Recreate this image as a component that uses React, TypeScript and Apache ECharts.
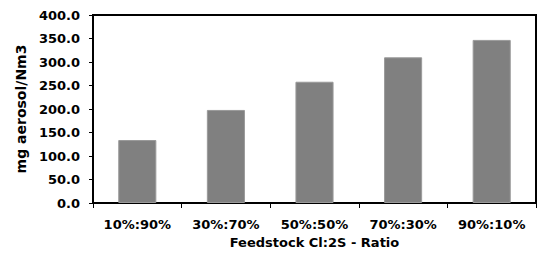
import React, { useEffect, useRef } from "react";
import * as echarts from "echarts";

const categories = ["10%:90%", "30%:70%", "50%:50%", "70%:30%", "90%:10%"];
const aerosolValues = [134, 198, 258, 310, 347];
const yAxisName = "mg aerosol/Nm3";
const xAxisName = "Feedstock Cl:2S - Ratio";

const FONT = "'DejaVu Sans', sans-serif";

export default function App() {
  const ref = useRef<HTMLDivElement>(null);
  useEffect(() => {
    if (!ref.current) return;
    const chart = echarts.init(ref.current, undefined, { renderer: "svg" });
    chart.setOption({
      animation: false,
      backgroundColor: "#ffffff",
      grid: {
        left: 93,
        right: 2,
        top: 15,
        bottom: 61,
        show: true,
        borderColor: "#000",
        borderWidth: 2,
        backgroundColor: "transparent",
      },
      xAxis: {
        type: "category",
        data: categories,
        name: xAxisName,
        nameLocation: "middle",
        nameGap: 30,
        nameTextStyle: { fontFamily: FONT, fontWeight: "bold", fontSize: 13, color: "#000" },
        axisLine: { lineStyle: { color: "#000", width: 2 } },
        axisTick: { show: true, length: 5, lineStyle: { color: "#000", width: 1 } },
        axisLabel: { margin: 15, fontFamily: FONT, fontWeight: "bold", fontSize: 13, color: "#000" },
      },
      yAxis: {
        type: "value",
        min: 0,
        max: 400,
        interval: 50,
        name: yAxisName,
        nameLocation: "middle",
        nameGap: 64,
        nameTextStyle: { fontFamily: FONT, fontWeight: "bold", fontSize: 14, color: "#000" },
        axisLine: { show: true, lineStyle: { color: "#000", width: 2 } },
        axisTick: { show: true, length: 4, lineStyle: { color: "#000", width: 1 } },
        splitLine: { show: false },
        axisLabel: {
          margin: 13,
          fontFamily: FONT,
          fontWeight: "bold",
          fontSize: 13,
          color: "#000",
          formatter: (v: number) => v.toFixed(1),
        },
      },
      series: [
        {
          type: "bar",
          data: aerosolValues,
          barWidth: "43%",
          itemStyle: { color: "#808080", borderColor: "#9a9a9a", borderWidth: 1 },
        },
      ],
    });
    return () => chart.dispose();
  }, []);
  return (
    <div
      ref={ref}
      style={{ position: "fixed", left: 0, top: 0, width: 538, height: 264, background: "#fff" }}
    />
  );
}
